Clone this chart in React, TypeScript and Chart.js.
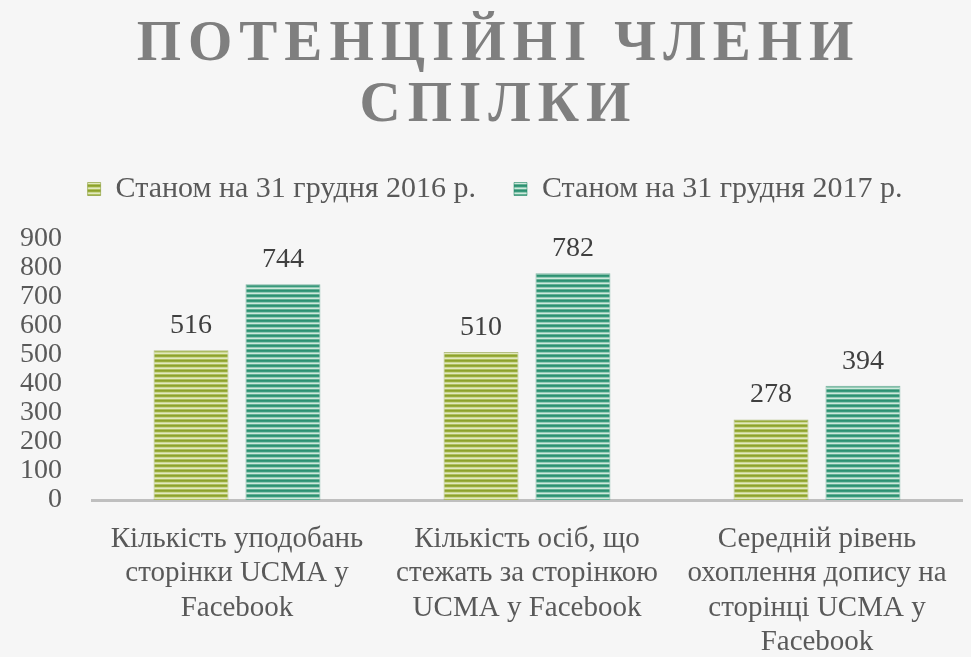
import { useEffect, useRef } from 'react';
import { Chart, registerables } from 'chart.js';

Chart.register(...registerables);

const titleLines = ['ПОТЕНЦІЙНІ ЧЛЕНИ', 'СПІЛКИ'];
const categories = [
  ['Кількість уподобань', 'сторінки UCMA у', 'Facebook'],
  ['Кількість осіб, що', 'стежать за сторінкою', 'UCMA у Facebook'],
  ['Середній рівень', 'охоплення допису на', 'сторінці UCMA у', 'Facebook'],
];
const seriesNames = ['Станом на 31 грудня 2016 р.', 'Станом на 31 грудня 2017 р.'];
const values2016 = [516, 510, 278];
const values2017 = [744, 782, 394];
const yTicks = [0, 100, 200, 300, 400, 500, 600, 700, 800, 900];

const FONT = '"Liberation Serif", "DejaVu Serif", serif';
const TEXT = '#595959';

function stripes(rows: string[]) {
  const c = document.createElement('canvas');
  c.width = 4;
  c.height = rows.length;
  const g = c.getContext('2d')!;
  rows.forEach((col, i) => {
    g.fillStyle = col;
    g.fillRect(0, i, 4, 1);
  });
  const main = document.createElement('canvas').getContext('2d')!;
  return main.createPattern(c, 'repeat')!;
}

export default function App() {
  const ref = useRef<HTMLCanvasElement>(null);

  useEffect(() => {
    const canvas = ref.current!;
    const green = stripes(['#8da22c', '#9aad3c', '#cbd792', '#e2e9bf', '#afc05e']);
    const teal = stripes(['#2d9171', '#3a9a7d', '#93cbb5', '#cfe9dd', '#62b094']);

    const legendTweak = {
      id: 'legendTweak',
      beforeInit(chart: any) {
        const lg = chart.legend;
        const origFit = lg.fit;
        lg.fit = function () {
          origFit.call(this);
          this.height = 103;
        };
        const origDraw = lg.draw;
        lg.draw = function () {
          const ctx = chart.ctx;
          ctx.save();
          ctx.translate(14, 0);
          origDraw.call(this);
          ctx.restore();
        };
      },
    };

    const titlePlugin = {
      id: 'slideTitle',
      afterDraw(chart: any) {
        const ctx = chart.ctx as CanvasRenderingContext2D;
        ctx.save();
        ctx.fillStyle = '#7f7f7f';
        ctx.font = `bold 57px ${FONT}`;
        (ctx as any).letterSpacing = '7px';
        ctx.textAlign = 'center';
        ctx.textBaseline = 'alphabetic';
        const cx = chart.width / 2 + 13;
        ctx.fillText(titleLines[0], cx, 60);
        ctx.fillText(titleLines[1], cx, 121);
        ctx.restore();
      },
    };

    const valueLabels = {
      id: 'valueLabels',
      afterDatasetsDraw(chart: any) {
        const ctx = chart.ctx as CanvasRenderingContext2D;
        ctx.save();
        ctx.fillStyle = '#404040';
        ctx.font = `28px ${FONT}`;
        ctx.textAlign = 'center';
        ctx.textBaseline = 'alphabetic';
        chart.data.datasets.forEach((ds: any, di: number) => {
          chart.getDatasetMeta(di).data.forEach((bar: any, i: number) => {
            ctx.fillText(String(ds.data[i]), bar.x, bar.y - 17);
          });
        });
        ctx.restore();
      },
    };

    const chart = new Chart(canvas, {
      type: 'bar',
      data: {
        labels: categories,
        datasets: [
          {
            label: seriesNames[0],
            data: values2016,
            backgroundColor: green,
            borderColor: 'rgba(125,145,35,0.55)',
            borderWidth: 1,
          },
          {
            label: seriesNames[1],
            data: values2017,
            backgroundColor: teal,
            borderColor: 'rgba(35,135,100,0.55)',
            borderWidth: 1,
          },
        ],
      },
      options: {
        responsive: false,
        animation: false,
        layout: { padding: { top: 136, right: 9, left: 0, bottom: 0 } },
        datasets: { bar: { categoryPercentage: 0.634, barPercentage: 0.815 } },
        plugins: {
          legend: {
            position: 'top',
            labels: {
              boxWidth: 13,
              boxHeight: 13,
              padding: 38,
              color: TEXT,
              font: { family: FONT, size: 30 },
            },
          },
          title: { display: false },
          tooltip: { enabled: false },
        },
        scales: {
          x: {
            grid: { display: false },
            border: { display: true, color: '#bfbfbf', width: 3 },
            ticks: {
              color: TEXT,
              font: { family: FONT, size: 29, lineHeight: 1.19 },
              padding: 14,
              maxRotation: 0,
              autoSkip: false,
            },
            afterFit(s: any) {
              s.height = 157;
            },
          },
          y: {
            min: 0,
            max: 900,
            grid: { display: false, drawTicks: false },
            border: { display: false },
            ticks: {
              color: TEXT,
              font: { family: FONT, size: 28, lineHeight: 1 },
              padding: 30,
              stepSize: 100,
              autoSkip: false,
            },
            afterBuildTicks(s: any) {
              s.ticks = yTicks.map((v) => ({ value: v }));
            },
            afterFit(s: any) {
              s.width = 92;
            },
          },
        },
      },
      plugins: [legendTweak, titlePlugin, valueLabels],
    });
    return () => chart.destroy();
  }, []);

  return (
    <div style={{ position: 'fixed', left: 0, top: 0, width: 971, height: 657, background: '#f6f6f6' }}>
      <canvas ref={ref} width={971} height={657} style={{ display: 'block', width: 971, height: 657 }} />
    </div>
  );
}
